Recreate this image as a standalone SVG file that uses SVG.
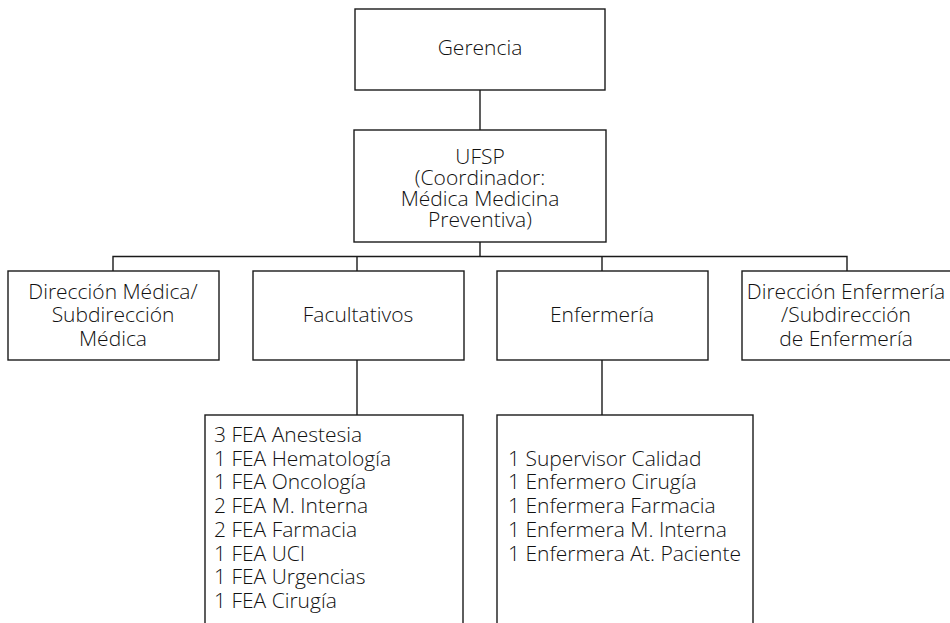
<svg xmlns="http://www.w3.org/2000/svg" width="950" height="623" viewBox="0 0 950 623">
<style>
.box{fill:#fff;stroke:#1a1a1a;stroke-width:1.4}
.ln{fill:none;stroke:#1a1a1a;stroke-width:1.4}
text{font-family:"Open Sans","Noto Sans",sans-serif;font-weight:300;font-size:21px;fill:#111}
.c{text-anchor:middle}
</style>
<rect width="950" height="623" fill="#fff"/>
<g id="connectors">
<path class="ln" d="M480 90V130"/>
<path class="ln" d="M480 242V256.5M113 271V256.5H847V271M357 256.5V271M602 256.5V271"/>
<path class="ln" d="M357 360V415M602 360V415"/>
</g>
<g id="gerencia">
<rect class="box" x="355" y="9" width="250" height="81"/>
<text class="c" x="480" y="55">Gerencia</text>
</g>
<g id="ufsp">
<rect class="box" x="354" y="130" width="252" height="112"/>
<text class="c" x="480" y="163.5">UFSP<tspan x="480" dy="21.3">(Coordinador:</tspan><tspan x="480" dy="21.3">Médica Medicina</tspan><tspan x="480" dy="21.3">Preventiva)</tspan></text>
</g>
<g id="direccion-medica">
<rect class="box" x="8" y="271" width="211" height="89"/>
<text class="c" x="113" y="298.5">Dirección Médica/<tspan x="113" dy="23.5">Subdirección</tspan><tspan x="113" dy="23.5">Médica</tspan></text>
</g>
<g id="facultativos">
<rect class="box" x="253" y="271" width="211" height="89"/>
<text class="c" x="358" y="322">Facultativos</text>
</g>
<g id="enfermeria">
<rect class="box" x="497" y="271" width="211" height="89"/>
<text class="c" x="602" y="322">Enfermería</text>
</g>
<g id="direccion-enfermeria">
<rect class="box" x="742" y="271" width="211" height="89"/>
<text class="c" x="846" y="298.5">Dirección Enfermería<tspan x="846" dy="23.5">/Subdirección</tspan><tspan x="846" dy="23.5">de Enfermería</tspan></text>
</g>
<g id="facultativos-lista">
<rect class="box" x="205" y="415" width="258" height="220"/>
<text x="214" y="442">3 FEA Anestesia<tspan x="214" dy="23.7">1 FEA Hematología</tspan><tspan x="214" dy="23.7">1 FEA Oncología</tspan><tspan x="214" dy="23.7">2 FEA M. Interna</tspan><tspan x="214" dy="23.7">2 FEA Farmacia</tspan><tspan x="214" dy="23.7">1 FEA UCI</tspan><tspan x="214" dy="23.7">1 FEA Urgencias</tspan><tspan x="214" dy="23.7">1 FEA Cirugía</tspan></text>
</g>
<g id="enfermeria-lista">
<rect class="box" x="497" y="415" width="256" height="220"/>
<text x="508" y="465.7">1 Supervisor Calidad<tspan x="508" dy="23.7">1 Enfermero Cirugía</tspan><tspan x="508" dy="23.7">1 Enfermera Farmacia</tspan><tspan x="508" dy="23.7">1 Enfermera M. Interna</tspan><tspan x="508" dy="23.7">1 Enfermera At. Paciente</tspan></text>
</g>
</svg>
